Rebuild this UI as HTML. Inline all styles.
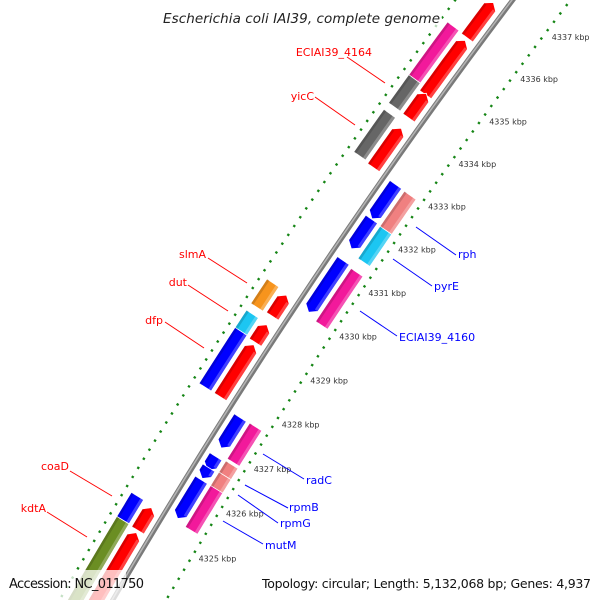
<!DOCTYPE html>
<html><head><meta charset="utf-8"><style>
html,body{margin:0;padding:0;background:#fff;width:600px;height:600px;overflow:hidden;}
svg{display:block;font-family:"DejaVu Sans","Liberation Sans",sans-serif;}
</style></head><body>
<svg id="map" width="600" height="600" viewBox="0 0 600 600" xmlns="http://www.w3.org/2000/svg">
<rect x="0" y="0" width="600" height="600" fill="#fff"/>
<g id="rulers"></g>
<g id="backbone"></g>
<g id="genes"></g>
<g id="ticklabels"></g>
<g font-size="11">
<g stroke="#ff0000" stroke-width="1">
<line x1="347" y1="57" x2="385" y2="83"/>
<line x1="315" y1="97" x2="355" y2="125"/>
<line x1="208" y1="258" x2="247" y2="283"/>
<line x1="188" y1="285" x2="228" y2="311"/>
<line x1="165" y1="322" x2="204" y2="348"/>
<line x1="70" y1="471" x2="112" y2="496"/>
<line x1="47" y1="512" x2="87" y2="537"/>
</g>
<g fill="#ff0000">
<text x="372" y="56" text-anchor="end">ECIAI39_4164</text>
<text x="314" y="100" text-anchor="end">yicC</text>
<text x="206" y="258" text-anchor="end">slmA</text>
<text x="187" y="286" text-anchor="end">dut</text>
<text x="163" y="324" text-anchor="end">dfp</text>
<text x="69" y="470" text-anchor="end">coaD</text>
<text x="46" y="512" text-anchor="end">kdtA</text>
</g>
<g stroke="#0000ff" stroke-width="1">
<line x1="416" y1="227" x2="456" y2="255"/>
<line x1="393" y1="259" x2="432" y2="286"/>
<line x1="360" y1="311" x2="397" y2="336"/>
<line x1="263" y1="454" x2="304" y2="479"/>
<line x1="245" y1="485" x2="288" y2="508"/>
<line x1="238" y1="495" x2="278" y2="523"/>
<line x1="223" y1="521" x2="263" y2="544"/>
</g>
<g fill="#0000ff">
<text x="458" y="258">rph</text>
<text x="434" y="290">pyrE</text>
<text x="399" y="341">ECIAI39_4160</text>
<text x="306" y="484">radC</text>
<text x="289" y="511">rpmB</text>
<text x="280" y="527">rpmG</text>
<text x="265" y="549">mutM</text>
</g>
</g>
<rect x="158" y="4" width="284" height="26" fill="#fff" fill-opacity="0.7"/>
<text x="163" y="23" font-size="13.5" font-style="italic" fill="#222" textLength="277">Escherichia coli IAI39, complete genome</text>
<rect x="0" y="570" width="126" height="30" fill="#fff" fill-opacity="0.75"/>
<text x="9" y="588" font-size="13" fill="#111" textLength="135">Accession: NC_011750</text>
<text x="262" y="588" font-size="12.5" fill="#111" textLength="329">Topology: circular; Length: 5,132,068 bp; Genes: 4,937</text>
</svg>
<script>
// ---- data (kbp) ----
var tickLabels = ["4325 kbp","4326 kbp","4327 kbp","4328 kbp","4329 kbp","4330 kbp","4331 kbp","4332 kbp","4333 kbp","4334 kbp","4335 kbp","4336 kbp","4337 kbp"];
var tickLabelPos = [4325,4326,4327,4328,4329,4330,4331,4332,4333,4334,4335,4336,4337];
var innerFwdStart = [4335.87,4334.54,4334.00,4332.85,4329.46,4328.87,4327.65,4324.69,4322.5];
var innerFwdEnd   = [4336.70,4335.81,4334.57,4333.76,4329.94,4329.27,4328.82,4325.19,4324.64];
var outerFwdStart = [4334.59,4334.01,4332.88,4329.44,4328.89,4327.65,4324.71,4322.5];
var outerFwdEnd   = [4335.89,4334.66,4333.86,4329.99,4329.29,4328.90,4325.24,4324.71];
var outerFwdColor = ["#f2199b","#666666","#666666","#f7941d","#1cc6f2","#0000ff","#0000ff","#6b8e23"];
var innerRevStart = [4332.04,4331.35,4329.90,4326.84,4326.35,4326.16,4325.27];
var innerRevEnd   = [4332.83,4332.03,4331.08,4327.52,4326.65,4326.40,4326.13];
var outerRevStart = [4331.98,4331.27,4329.83,4326.73,4326.35,4326.09,4325.21];
var outerRevEnd   = [4332.82,4332.01,4331.04,4327.53,4326.68,4326.43,4326.13];
var outerRevColor = ["#f08080","#1cc6f2","#f2199b","#f2199b","#f08080","#f08080","#f2199b"];

// ---- geometry ----
var CX = 5381, CY = 3679;
var R_BACK = 6102, R_IF = 6116, R_OF = 6134, R_IR = 6088, R_OR = 6070, R_RL = 6148, R_RR = 6056;
var HW = 7.2;
function ang(k){ return (-142.90 - (4337 - k) * 0.4967) * Math.PI / 180; }
function pt(k, r){ var a = ang(k); return [CX + r * Math.cos(a), CY + r * Math.sin(a)]; }
var NS = "http://www.w3.org/2000/svg";
function mk(tag, parent){ var e = document.createElementNS(NS, tag); parent.appendChild(e); return e; }
function poly(pts){ return pts.map(function(p){ return p[0].toFixed(2) + "," + p[1].toFixed(2); }).join(" "); }
function arcPts(k1, k2, r, n){ var o = []; for (var i = 0; i <= n; i++){ o.push(pt(k1 + (k2 - k1) * i / n, r)); } return o; }

// rulers
var rg = document.getElementById("rulers");
[R_RL, R_RR].forEach(function(r){
  for (var t = 43225; t <= 43385; t += 2){
    var k = t / 10;
    var major = (t % 10 === 0);
    var len = major ? 4 : 1.2;
    var a = pt(k, r - len), b = pt(k, r + len);
    var l = mk("line", rg);
    
    
    l.setAttribute("x1", a[0]); l.setAttribute("y1", a[1]);
    l.setAttribute("x2", b[0]); l.setAttribute("y2", b[1]);
    l.setAttribute("stroke", "#158515"); l.setAttribute("stroke-width", "2.3");
  }
});

// backbone
var bg = document.getElementById("backbone");
var b1 = mk("polyline", bg);


b1.setAttribute("points", poly(arcPts(4322, 4339, R_BACK, 30))); b1.setAttribute("fill", "none");
b1.setAttribute("stroke", "#7a7a7a"); b1.setAttribute("stroke-width", "5");
var b2 = mk("polyline", bg);


b2.setAttribute("points", poly(arcPts(4322, 4339, R_BACK + 0.7, 30))); b2.setAttribute("fill", "none");
b2.setAttribute("stroke", "#b4b4b4"); b2.setAttribute("stroke-width", "1.6");

// genes
var gg = document.getElementById("genes");
function gene(k1, k2, rc, color, arrow, dir, name){
  var head = arrow ? Math.min(0.11, (k2 - k1) * 0.5) : 0;
  var pts, n = 8;
  if (dir > 0){
    var ke = k2 - head;
    pts = arcPts(k1, ke, rc - HW, n);
    if (arrow) pts.push(pt(k2, rc));
    pts = pts.concat(arcPts(ke, k1, rc + HW, n));
  } else {
    var ks = k1 + head;
    pts = arcPts(ks, k2, rc - HW, n);
    pts = pts.concat(arcPts(k2, ks, rc + HW, n));
    if (arrow) pts.push(pt(k1, rc));
  }
  var p = mk("polygon", gg);
  
  
  p.setAttribute("points", poly(pts));
  p.setAttribute("fill", color); p.setAttribute("stroke", "#fff"); p.setAttribute("stroke-width", "0.8");
  var kk2 = dir > 0 ? k2 - head : k2, kk1 = dir > 0 ? k1 : k1 + head;
  var hs = mk("polygon", gg);
  
  
  hs.setAttribute("points", poly(arcPts(kk1, kk2, rc - HW + 0.5, n).concat(arcPts(kk2, kk1, rc - HW + 3.5, n))));
  hs.setAttribute("fill", "#fff"); hs.setAttribute("fill-opacity", "0.25");
  var ds = mk("polygon", gg);
  
  
  ds.setAttribute("points", poly(arcPts(kk1, kk2, rc + HW - 3, n).concat(arcPts(kk2, kk1, rc + HW - 0.4, n))));
  ds.setAttribute("fill", "#000"); ds.setAttribute("fill-opacity", "0.15");
}
for (var i = 0; i < innerFwdStart.length; i++) gene(innerFwdStart[i], innerFwdEnd[i], R_IF, "#ff0000", true, 1, "forward-gene");
for (var i = 0; i < outerFwdStart.length; i++) gene(outerFwdStart[i], outerFwdEnd[i], R_OF, outerFwdColor[i], false, 1, "forward-cog-block");
for (var i = 0; i < innerRevStart.length; i++) gene(innerRevStart[i], innerRevEnd[i], R_IR, "#0000ff", true, -1, "reverse-gene");
for (var i = 0; i < outerRevStart.length; i++) gene(outerRevStart[i], outerRevEnd[i], R_OR, outerRevColor[i], false, -1, "reverse-cog-block");

// tick labels
var tl = document.getElementById("ticklabels");
for (var i = 0; i < tickLabelPos.length; i++){
  var p = pt(tickLabelPos[i], R_RR);
  var t = mk("text", tl);
  
  
  t.setAttribute("x", (p[0] + 1).toFixed(1)); t.setAttribute("y", (p[1] + 14).toFixed(1));
  t.setAttribute("font-size", "8"); t.setAttribute("fill", "#333");
  t.textContent = tickLabels[i];
}
</script>
</body></html>
